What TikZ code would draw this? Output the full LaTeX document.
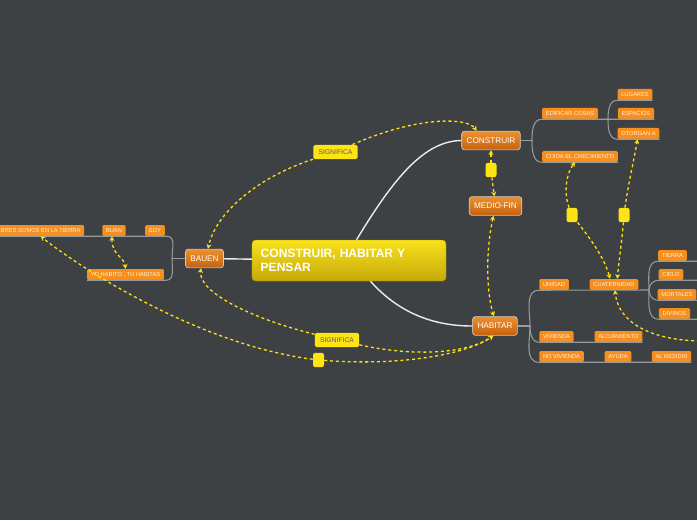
\documentclass[tikz,border=0pt]{standalone}
\usepackage{fontspec}
\setsansfont{Liberation Sans}
\usetikzlibrary{arrows.meta, positioning, calc}
\definecolor{bgdark}{RGB}{61,65,67}
\definecolor{topictop}{RGB}{236,144,48}
\definecolor{topicbot}{RGB}{196,98,14}
\definecolor{leaforange}{RGB}{246,143,30}
\definecolor{linkyellow}{RGB}{255,224,16}
\definecolor{tagyellow}{RGB}{255,228,20}
\definecolor{branchgray}{RGB}{150,155,158}
\definecolor{titletop}{RGB}{247,226,27}
\definecolor{titlebot}{RGB}{199,168,10}
\tikzset{
    base/.style={align=center, font=\sffamily},
    maintopic/.style={base, rectangle, rounded corners=3pt, top color=titletop, bottom color=titlebot, draw=titlebot!85!black, minimum width=5.82cm, minimum height=1.23cm, text width=5.3cm, align=left, text=white, font=\sffamily\bfseries\fontsize{10.3}{12}\selectfont},
    topic/.style={base, rectangle, rounded corners=2.5pt, top color=topictop, bottom color=topicbot, draw=white!80!black, line width=0.6pt, minimum height=16pt, inner xsep=4.2pt, text=white, font=\sffamily\fontsize{7}{8}\selectfont},
    leaf/.style={base, rectangle, rounded corners=1.2pt, fill=leaforange, minimum height=9.4pt, inner xsep=3.2pt, inner ysep=0pt, text=white!90!orange, font=\sffamily\fontsize{4.9}{5}\selectfont},
    tag/.style={base, rectangle, rounded corners=1.5pt, fill=tagyellow, minimum width=1.33cm, minimum height=0.43cm, inner sep=0pt, text=black!65, font=\sffamily\fontsize{5.8}{6}\selectfont},
    knob/.style={rectangle, rounded corners=2pt, fill=tagyellow, minimum width=0.33cm, minimum height=0.43cm, inner sep=0pt},
    trunk/.style={draw=white!92!black, line width=1.2pt},
    branch/.style={draw=branchgray, line width=0.9pt},
    link/.style={draw=linkyellow, line width=1.1pt, dash pattern=on 2.6pt off 2.4pt, ->},
    >={Stealth[length=4pt,width=4.4pt]}
}

\begin{document}
\begin{tikzpicture}[x=0.03cm, y=-0.03cm]
    \fill[bgdark] (0,0) rectangle (697,520);
    \useasboundingbox (0,0) rectangle (697,520);

    % central idea and the main words
    \node (center) [maintopic] at (349,260.5) {CONSTRUIR, HABITAR Y\\PENSAR};
    \node (construir) [topic] at (491,140.5) {CONSTRUIR};
    \node (mediofin) [topic] at (495.5,206) {MEDIO-FIN};
    \node (bauen) [topic] at (204.5,258.5) {BAUEN};
    \node (habitar) [topic] at (495,326) {HABITAR};

    % leaves of bauen
    \node (terra) [leaf, anchor=west] at (-3,230.5) {BRES SOMOS EN LA TIERRA};
    \node (buan) [leaf] at (114,230.5) {BUAN};
    \node (soy) [leaf] at (155,230.5) {SOY};
    \node (yo) [leaf] at (125.5,274.5) {YO HABITO , TU HABITAS};

    % leaves of construir
    \node (edificar) [leaf] at (570,113.5) {EDIFICAR COSAS};
    \node (cuida) [leaf] at (580,156.5) {CUIDA EL CRECIMIENTO};
    \node (lugares) [leaf] at (635,94.5) {LUGARES};
    \node (espacios) [leaf] at (636,113.5) {ESPACIOS};
    \node (otorgan) [leaf] at (638.5,133.5) {OTORGAN A};

    % leaves of habitar
    \node (unidad) [leaf] at (554,284.5) {UNIDAD};
    \node (cuat) [leaf] at (614,284.5) {CUATERNIDAD};
    \node (tierra) [leaf] at (672.5,255.5) {TIERRA};
    \node (cielo) [leaf] at (671,274.5) {CIELO};
    \node (mortales) [leaf] at (677,294.5) {MORTALES};
    \node (divinos) [leaf] at (674.5,313.5) {DIVINOS};
    \node (vivienda) [leaf] at (556.5,336.5) {VIVIENDA};
    \node (alojamiento) [leaf] at (618.5,336.5) {ALOJAMIENTO};
    \node (novivienda) [leaf] at (561.5,356.5) {NO VIVIENDA};
    \node (ayuda) [leaf] at (618,356.5) {AYUDA};
    \node (alresidir) [leaf] at (671.5,356.5) {AL RESIDIR};

    % labels on the links
    \node (sig1) [tag] at (335.5,152) {SIGNIFICA};
    \node (sig2) [tag] at (337,340) {SIGNIFICA};
    \node (knob1) [knob] at (491,170) {};
    \node (knob2) [knob] at (572,215) {};
    \node (knob3) [knob] at (624,215) {};
    \node (knob4) [knob] at (318.5,360) {};

    % trunks
    \draw[trunk] (center) -- (bauen);
    \draw[trunk] (center.70) .. controls (395,176) and (425,141) .. (construir.west);
    \draw[trunk] (center.-44) .. controls (398,312) and (432,326) .. (habitar.west);

    % branches
    \coordinate (jb) at (172,258.5);
    \coordinate (jc) at (532,140.5);
    \coordinate (je) at (608,119);
    \coordinate (jh) at (530,326);
    \coordinate (jq) at (649,290);
    \draw[branch] (bauen) -- (jb);
    \draw[branch] (jb) to[out=90,in=0] ($(soy.south east)+(2,0)$) -- (terra.south west);
    \draw[branch] (jb) to[out=-90,in=0] ($(yo.south east)+(2,0)$) -- (yo.south west);
    \draw[branch] (construir) -- (jc);
    \draw[branch] (jc) to[out=90,in=180] (edificar.south west) -- (espacios.south east);
    \draw[branch] (jc) to[out=-90,in=180] (cuida.south west) -- (cuida.south east);
    \draw[branch] (je) to[out=90,in=180] (lugares.south west) -- (lugares.south east);
    \draw[branch] (je) to[out=-90,in=180] (otorgan.south west) -- (otorgan.south east);
    \draw[branch] (habitar) -- (jh);
    \draw[branch] (jh) to[out=90,in=180] (unidad.south west) -- (jq);
    \draw[branch] (jh) to[out=-90,in=180] (vivienda.south west) -- (alojamiento.south east);
    \draw[branch] (jh) to[out=-90,in=180] (novivienda.south west) -- (alresidir.south east);
    \draw[branch] (jq) to[out=90,in=180] (tierra.south west) -- ++(40,0);
    \draw[branch] (jq) to[out=90,in=180] (cielo.south west) -- ++(40,0);
    \draw[branch] (jq) to[out=-90,in=180] (mortales.south west) -- ++(40,0);
    \draw[branch] (jq) to[out=-90,in=180] (divinos.south west) -- ++(40,0);

    % dashed links
    \draw[link] (sig1) .. controls (255,178) and (215,215) .. (bauen.70);
    \draw[link] (sig1) .. controls (420,115) and (468,118) .. (construir.146);
    \draw[link] (knob1) -- (construir);
    \draw[link] (knob1) -- (mediofin);
    \draw[link, <->] (mediofin) .. controls (486,250) and (486,290) .. (habitar.97);
    \draw[link] (sig2) .. controls (250,318) and (198,292) .. (bauen.250);
    \draw[link] (sig2) .. controls (420,358) and (470,352) .. (habitar.-100);
    \draw[link] (knob4) .. controls (200,345) and (80,268) .. (terra.south);
    \draw[link] (knob4) .. controls (400,366) and (465,355) .. (habitar.-100);
    \draw[link, <->] (buan.250) .. controls (112,256) and (124,256) .. (yo.north);
    \draw[link] (knob2) .. controls (563,192) and (567,172) .. (cuida.230);
    \draw[link] (knob2) .. controls (588,236) and (604,256) .. (cuat.125);
    \draw[link] (knob3) .. controls (628,185) and (634,160) .. (otorgan.-100);
    \draw[link] (knob3) .. controls (622,240) and (619,260) .. (cuat.60);
    \coordinate (offright) at (700,341);
    \draw[link] (offright) .. controls (650,340) and (618,322) .. (cuat.-80);
\end{tikzpicture}
\end{document}
